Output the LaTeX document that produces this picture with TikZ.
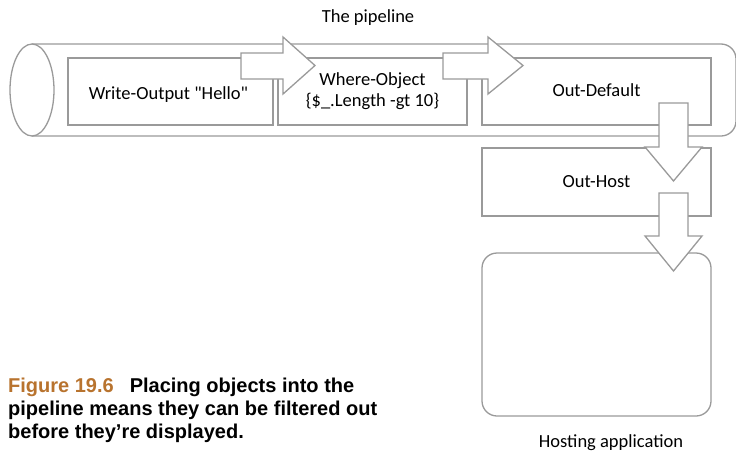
\documentclass[tikz,border=0pt]{standalone}
\usepackage{fontspec}
\setmainfont{Carlito}[Ligatures=TeXOff]
\newfontfamily\capfont{Liberation Sans}
\definecolor{linegray}{HTML}{9A9A9A}
\definecolor{figorange}{HTML}{B8732E}
\begin{document}
\begin{tikzpicture}[x=1pt,y=-1pt,
  outline/.style={draw=linegray,line width=1.3pt,fill=white},
  stagebox/.style={outline,rectangle,inner sep=0pt,font=\fontsize{18.5}{22}\selectfont,align=center},
  blockarrow/.style={outline,line join=miter},
  lbl/.style={font=\fontsize{18.5}{22}\selectfont,inner sep=0pt}]
\useasboundingbox (0,0) rectangle (736,453);
% pipeline cylinder
\coordinate (cylL) at (32,90);
\draw[outline,rounded corners=15pt] (32,44) -- (736,44) -- (736,136) -- (32,136);
\draw[outline] (cylL) ellipse [x radius=22pt,y radius=46pt];
\node[lbl] (title) at (368,18) {The pipeline};
% stages
\node[stagebox,minimum width=205pt,minimum height=67pt] (wo) at (170.5,91.5) {};
\node[lbl] at ([xshift=-2pt,yshift=-3pt]wo.center) {Write-Output "Hello"};
\node[stagebox,minimum width=189pt,minimum height=67pt] (where) at (372.5,91.5) {};
\node[lbl,align=center,font=\fontsize{18.5}{21}\selectfont] at (where.center) {Where-Object\\\{\$\_.Length -gt 10\}};
\node[stagebox,minimum width=229pt,minimum height=67pt] (od) at (596.5,91.5) {};
\node[lbl] at ([yshift=1pt]od.center) {Out-Default};
\node[stagebox,minimum width=229pt,minimum height=68pt] (oh) at (596.5,182) {};
\node[lbl] at (oh.center) {Out-Host};
\node[outline,rectangle,rounded corners=15pt,minimum width=229pt,minimum height=163pt,inner sep=0pt] (host) at (596.5,334.5) {};
\node[lbl,anchor=center] (hostlbl) at (611,443) {Hosting application};
% block arrows
\draw[blockarrow] (241,53) -- (283,53) -- (283,37) -- (315,65.5) -- (283,94) -- (283,79) -- (241,79) -- cycle;
\draw[blockarrow] (443,53) -- (488,53) -- (488,37) -- (523,65.5) -- (488,94) -- (488,79) -- (443,79) -- cycle;
\draw[blockarrow] (659,103) -- (688,103) -- (688,147) -- (702,147) -- (673.5,181) -- (645,147) -- (659,147) -- cycle;
\draw[blockarrow] (659,193) -- (688,193) -- (688,236) -- (702,236) -- (673.5,271) -- (645,236) -- (659,236) -- cycle;
% caption
\node[anchor=north west,inner sep=0pt,align=left,font=\capfont\bfseries\fontsize{20}{23}\selectfont] (cap) at (8,378)
  {{\color{figorange}Figure 19.6}\hspace{16pt}Placing objects into the\\pipeline means they can be filtered out\\before they’re displayed.};
\end{tikzpicture}
\end{document}
